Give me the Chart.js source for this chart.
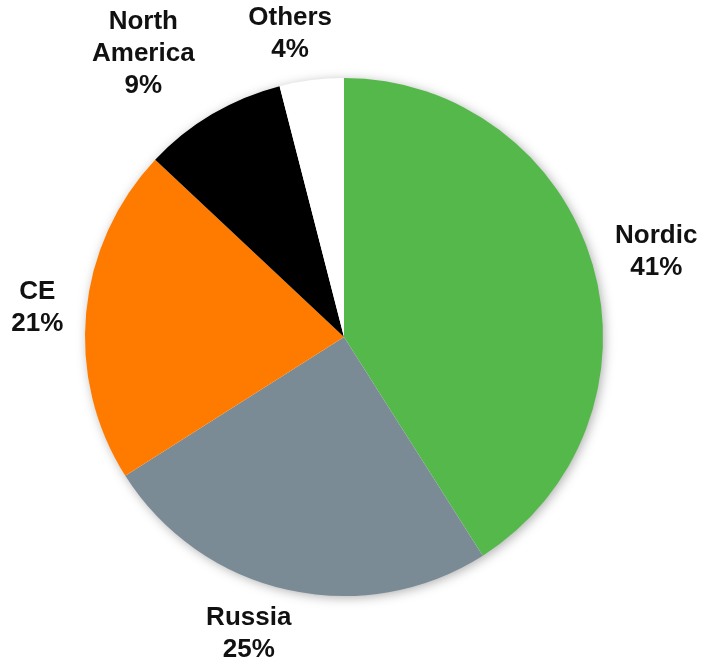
<!DOCTYPE html>
<html lang="en">
<head>
    <title>Sales by Region</title>
    <script src="https://cdn.jsdelivr.net/npm/chart.js"></script>
    <style>
        html, body { margin: 0; padding: 0; background: #fff; }
        #wrap { width: 702px; height: 659px; position: relative; }
    </style>
</head>
<body>
    <div id="wrap"><canvas id="regionChart"></canvas></div>

    <script>
        const regions = ["Nordic", "Russia", "CE", "North America", "Others"];
        const shares = [41, 25, 21, 9, 4];
        const labelLines = [["Nordic"], ["Russia"], ["CE"], ["North", "America"], ["Others"]];
        const colors = ["#54b84a", "#7b8b96", "#ff7b00", "#000000", "#ffffff"];

        // small hand nudges so labels sit where they read best
        const nudges = [[0, 3], [-24, -12], [2, 1], [-30, 3], [-13, 10]];

        const font = "bold 26px 'Liberation Sans', Arial, sans-serif";
        const lineH = 32;

        // soft glow behind the whole pie
        const pieShadow = {
            id: "pieShadow",
            beforeDatasetsDraw(chart) {
                const arc = chart.getDatasetMeta(0).data[0];
                if (!arc) return;
                const ctx = chart.ctx;
                ctx.save();
                ctx.shadowColor = "rgba(0,0,0,0.35)";
                ctx.shadowBlur = 12;
                ctx.shadowOffsetX = 2;
                ctx.shadowOffsetY = 2;
                ctx.fillStyle = "#fff";
                ctx.beginPath();
                ctx.arc(arc.x, arc.y, arc.outerRadius - 1, 0, Math.PI * 2);
                ctx.fill();
                ctx.restore();
            }
        };

        // region name plus percentage outside each slice
        const outsideLabels = {
            id: "outsideLabels",
            afterDatasetsDraw(chart) {
                const ctx = chart.ctx;
                ctx.save();
                ctx.font = font;
                ctx.fillStyle = "#111";
                ctx.textAlign = "center";
                ctx.textBaseline = "middle";
                chart.getDatasetMeta(0).data.forEach((arc, i) => {
                    const lines = labelLines[i].concat([shares[i] + "%"]);
                    const w = Math.max(...lines.map(t => ctx.measureText(t).width));
                    const h = lines.length * lineH;
                    const mid = (arc.startAngle + arc.endAngle) / 2;
                    const dx = Math.cos(mid), dy = Math.sin(mid);
                    const r = arc.outerRadius + 25;
                    const cx = arc.x + dx * r + dx * w / 2 + nudges[i][0];
                    const cy = arc.y + dy * r + dy * h / 2 + nudges[i][1];
                    lines.forEach((t, k) => {
                        ctx.fillText(t, cx, cy - h / 2 + lineH * (k + 0.5));
                    });
                });
                ctx.restore();
            }
        };

        new Chart(document.getElementById("regionChart"), {
            type: "pie",
            data: {
                labels: regions,
                datasets: [{
                    data: shares,
                    backgroundColor: colors,
                    borderWidth: 0
                }]
            },
            options: {
                responsive: true,
                maintainAspectRatio: false,
                animation: false,
                layout: { padding: { left: 85, right: 99, top: 78, bottom: 63 } },
                plugins: {
                    legend: { display: false },
                    tooltip: { enabled: false }
                }
            },
            plugins: [pieShadow, outsideLabels]
        });
    </script>
</body>
</html>
